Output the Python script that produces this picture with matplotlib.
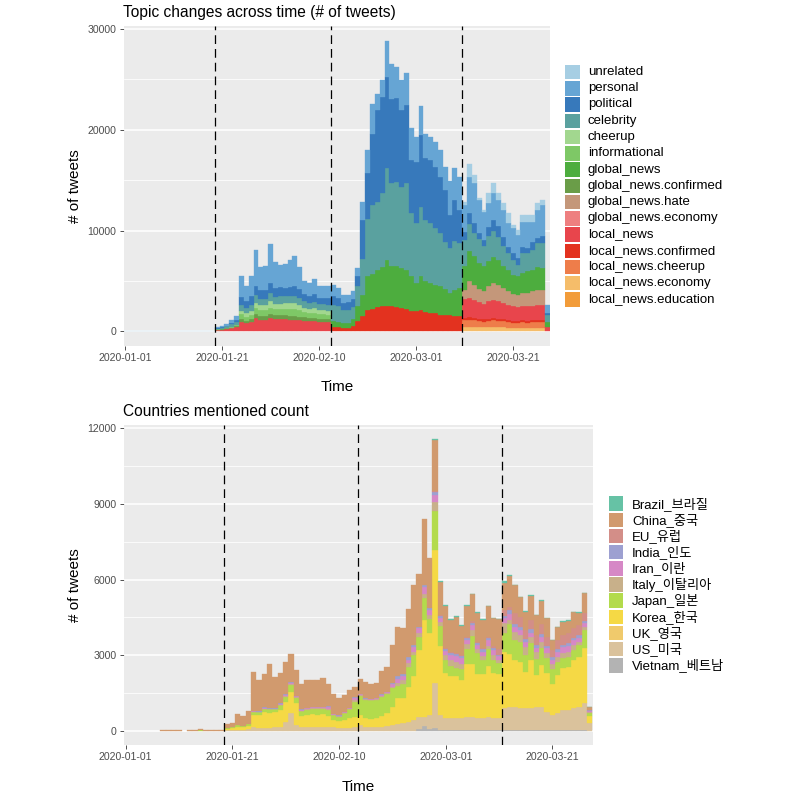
import matplotlib
matplotlib.use("Agg")
import matplotlib.pyplot as plt
from matplotlib.patches import Rectangle
import numpy as np

plt.rcParams['font.family'] = ['Liberation Sans', 'Noto Sans CJK KR', 'DejaVu Sans']

# ---------------- data: top panel (days since 2020-01-01, 0..87) ----------------
days = list(range(88))
tick_days = [0, 20, 40, 60, 80]
tick_labels = ["2020-01-01", "2020-01-21", "2020-02-10", "2020-03-01", "2020-03-21"]
top_vlines = [18.5, 42.5, 69.4]
bot_vlines = [18.5, 43.5, 70.5]

topic_names = ["unrelated", "personal", "political", "celebrity", "cheerup", "informational",
               "global_news", "global_news.confirmed", "global_news.hate", "global_news.economy",
               "local_news", "local_news.confirmed", "local_news.cheerup", "local_news.economy",
               "local_news.education"]
topic_colors = ["#A6CEE3", "#66A5D4", "#3779BB", "#5AA19F", "#A2D78F", "#7EC866",
                "#4DAD3E", "#6A9D48", "#C4977A", "#EE7F80",
                "#E8454C", "#E3321F", "#EE7D4A", "#F5BD6A", "#F29C3A"]

unrelated = [80]*19 + [0]*24 + [0]*27 + [260, 1250, 820, 160, 160, 990, 990, 660, 720, 920, 330, 490, 660, 660, 660, 660, 490] + [0]
personal = [0]*19 + [100, 120, 160, 260, 350, 2080, 1500, 1980, 3550, 2270, 2420, 3930, 2550, 2200, 2300, 2630, 2990, 2250, 1200, 1240, 1480, 1190, 1130, 1230] \
    + [1090, 990, 820, 760, 760, 820, 1810, 2300, 2960, 1650, 1650, 3620, 3450, 3030, 2960, 3190, 3220, 2400, 2860, 2400, 2300, 2470, 2630, 2300, 3390, 3130, 3290] \
    + [2630, 3620, 3950, 3290, 2860, 2300, 2630, 2570, 2700, 2430, 2470, 2300, 2530, 2630, 1970, 2800, 3130] + [800]
political = [0]*19 + [50, 60, 90, 150, 230, 800, 700, 800, 900, 850, 850, 950, 900, 900, 850, 850, 950, 850, 750, 700, 750, 650, 650, 650] \
    + [820, 820, 720, 720, 790, 990, 3880, 4540, 7070, 9050, 9540, 9050, 8390, 8320, 7570, 7730, 5260, 6090, 7070, 6090, 6250, 6090, 5590, 5100, 3290, 4110, 3290] \
    + [820, 1050, 990, 590, 590, 920, 1150, 1120, 920, 590, 660, 660, 590, 490, 820, 490, 660] + [250]
celebrity = [0]*19 + [80, 100, 140, 200, 250, 600, 500, 600, 750, 650, 650, 850, 700, 750, 700, 750, 750, 700, 650, 600, 650, 550, 550, 550] \
    + [1650, 1580, 1320, 1380, 1250, 1970, 3520, 5660, 6810, 6810, 7300, 9110, 8230, 8390, 8060, 8550, 6190, 5920, 6840, 6090, 5920, 5590, 5260, 4700, 4440, 4770, 4440] \
    + [2630, 2730, 2300, 2370, 1970, 2530, 2530, 2240, 1910, 1710, 1480, 1150, 1970, 1810, 1970, 2370, 2470] + [650]
cheerup = [0]*19 + [0, 0, 20, 40, 60, 350, 320, 400, 550, 500, 500, 600, 550, 550, 580, 600, 600, 550, 450, 420, 450, 400, 400, 400] + [0]*45
informational = [0]*19 + [20, 20, 40, 60, 80, 450, 400, 450, 600, 550, 550, 650, 600, 600, 620, 650, 650, 600, 500, 480, 500, 450, 450, 450] + [0]*45
global_news = [0]*43 + [560, 460, 430, 430, 660, 1480, 2070, 3360, 3490, 3620, 3880, 4540, 3950, 4010, 3950, 3880, 3520, 2800, 3420, 3060, 2960, 2860, 2800, 2530, 2200, 2570, 2800] \
    + [2300, 2960, 2800, 2570, 2470, 2470, 2570, 2470, 2200, 2070, 1880, 1810, 1970, 2140, 2140, 2240, 2140] + [500]
global_news_confirmed = [0]*19 + [30, 40, 50, 60, 80, 300, 280, 320, 400, 380, 380, 420, 400, 400, 400, 400, 400, 380, 350, 350, 350, 330, 330, 320] + [0]*45
global_news_hate = [0]*70 + [920, 1650, 1480, 1320, 1220, 1480, 1650, 1650, 1480, 1320, 1250, 1220, 1320, 1320, 1410, 1480, 1480] + [0]
global_news_economy = [0]*88
local_news = [0]*19 + [150, 180, 250, 330, 450, 950, 800, 900, 1300, 1150, 1150, 1300, 1200, 1200, 1200, 1150, 1150, 1100, 1050, 1000, 1000, 950, 950, 900] + [0]*27 \
    + [1880, 1910, 1810, 1650, 1580, 1740, 1840, 1710, 1610, 1510, 1410, 1350, 1380, 1410, 1450, 1510, 1510] + [450]
local_news_confirmed = [0]*43 + [460, 460, 360, 360, 530, 1020, 1580, 2110, 2240, 2430, 2500, 2500, 2500, 2430, 2340, 2240, 2010, 2010, 2110, 1910, 1840, 1780, 1680, 1680, 1610, 1580, 1510] \
    + [230]*17 + [0]
local_news_cheerup = [0]*70 + [660, 720, 660, 590, 530, 590, 630, 590, 560, 530, 490, 490, 530, 490, 530, 530, 530] + [0]
local_news_economy = [0]*70 + [460, 460, 460, 430, 430, 430, 460, 460, 430, 390, 360, 360, 360, 360, 360, 390, 390] + [0]
local_news_education = [0]*88

topic_values = [unrelated, personal, political, celebrity, cheerup, informational, global_news,
                global_news_confirmed, global_news_hate, global_news_economy, local_news,
                local_news_confirmed, local_news_cheerup, local_news_economy, local_news_education]

# ---------------- data: bottom panel ----------------
country_names = ["Brazil_브라질", "China_중국", "EU_유럽", "India_인도", "Iran_이란", "Italy_이탈리아",
                 "Japan_일본", "Korea_한국", "UK_영국", "US_미국", "Vietnam_베트남"]
country_colors = ["#66C2A5", "#D19A6E", "#D38E88", "#9DA0D1", "#D688C6", "#C8B08A",
                  "#B3DB4C", "#F5D945", "#F0CA6C", "#DAC29C", "#B3B3B3"]

brazil = [0]*58 + [30]*12 + [30, 50] + [20]*15 + [10]
china = [0]*7 + [40, 40, 40, 40, 0] + [30]*7 + [150, 180, 430, 400, 510] \
    + [1520, 1230, 1310, 1730, 1220, 1190, 1280, 1110, 1030, 1000, 1090, 1050, 1060, 1120, 840, 780, 660, 660, 700, 400] \
    + [590, 630, 590, 590, 920, 960, 1470, 1950, 1850, 1920, 2380, 2070, 2640, 1970, 2000, 1320, 1660, 1240, 1420, 1140, 1220, 1070, 1140, 1110, 1200, 1110] \
    + [1190, 1080, 1250, 1120, 770, 730, 950, 790, 900, 730, 400, 500, 530, 490, 620, 500, 790, 110]
eu = [0]*58 + [50]*12 + [200, 240, 130, 400, 400, 370, 370, 400, 400, 370, 260, 370, 400, 400, 400, 400, 300, 20]
india = [0]*24 + [20, 20, 20, 20, 20, 20, 30, 30, 20, 20, 20, 20, 20, 20, 50, 20, 20, 20, 20, 60] \
    + [25, 15, 15, 15, 30, 20, 70, 110, 80, 110, 90, 70, 90, 70, 130, 80, 70, 80, 80, 80, 80, 80, 80, 80, 80, 80] \
    + [70, 90, 130, 130, 130, 90, 130, 90, 130, 90, 110, 90, 90, 110, 90, 90, 90, 20]
iran = [0]*24 + [30, 30, 30, 30, 30, 30, 40, 40, 40, 30, 30, 30, 30, 30, 80, 20, 20, 30, 20, 60] \
    + [40, 20, 20, 25, 40, 40, 90, 130, 160, 110, 170, 200, 260, 200, 290, 150, 150, 200, 220, 220, 180, 200, 160, 170, 230, 220] \
    + [130, 200, 260, 200, 200, 200, 160, 170, 200, 200, 160, 200, 210, 220, 170, 170, 130, 40]
italy = [0]*24 + [0, 0, 0, 0, 0, 20, 40, 40, 30, 20, 30, 20, 20, 30, 30, 20, 20, 20, 20, 80] \
    + [40, 30, 20, 25, 40, 30, 70, 130, 130, 160, 130, 130, 170, 150, 330, 150, 200, 250, 250, 230, 200, 250, 150, 150, 150, 170] \
    + [130, 370, 130, 330, 260, 330, 260, 260, 260, 200, 200, 200, 220, 200, 200, 130, 130, 40]
japan = [0]*14 + [30] + [0]*4 + [20, 40, 60, 50, 80] \
    + [100, 110, 130, 160, 90, 200, 200, 260, 200, 200, 220, 220, 260, 220, 260, 200, 160, 260, 360, 590] \
    + [730, 730, 740, 730, 770, 770, 750, 490, 590, 790, 860, 530, 860, 550, 1560, 800, 520, 400, 330, 400, 590, 1120, 860, 590, 660, 520] \
    + [460, 750, 1190, 790, 790, 660, 660, 660, 660, 590, 590, 530, 400, 400, 400, 460, 730, 120]
korea = [0]*19 + [60, 80, 130, 100, 150] \
    + [500, 500, 630, 570, 620, 660, 790, 860, 860, 420, 460, 500, 490, 530, 420, 290, 280, 320, 380, 420] \
    + [400, 330, 320, 360, 420, 500, 700, 1020, 990, 1390, 1720, 2640, 3830, 3250, 5280, 2740, 1790, 1650, 1650, 1540, 2100, 2100, 1720, 1720, 2000, 1790] \
    + [1720, 2250, 2110, 1850, 1850, 1450, 1920, 1250, 1650, 1520, 1250, 1520, 1650, 1720, 1920, 1980, 2180, 300]
uk = [0]*88
us = [0]*19 + [30, 30, 40, 40, 60] \
    + [150, 130, 130, 130, 150, 170, 370, 700, 240, 170, 170, 170, 140, 140, 170, 140, 130, 120, 120, 150] \
    + [240, 170, 150, 150, 170, 200, 240, 280, 300, 370, 440, 510, 370, 570, 1790, 600, 500, 500, 500, 480, 520, 520, 500, 500, 550, 500] \
    + [500, 880, 940, 940, 880, 880, 880, 940, 940, 750, 610, 680, 810, 810, 880, 940, 1080, 300]
vietnam = [0]*55 + [60, 200, 80, 100] + [20]*28 + [0]

country_values = [brazil, china, eu, india, iran, italy, japan, korea, uk, us, vietnam]

# ---------------- figure ----------------
W = H = 800
fig = plt.figure(figsize=(8, 8), dpi=100)
fig.patch.set_facecolor("white")

def px_axes(l, t, r, b):
    return fig.add_axes([l / W, 1 - b / H, (r - l) / W, (b - t) / H])

ax1 = px_axes(123.5, 26, 550, 346)
ax2 = px_axes(123.5, 425, 593, 745)

def style(ax, yticks, yminor, xlim, ylim):
    ax.set_facecolor("#EBEBEB")
    for s in ax.spines.values():
        s.set_visible(False)
    ax.set_xlim(*xlim)
    ax.set_ylim(*ylim)
    ax.set_yticks(yticks)
    ax.set_yticklabels([str(v) for v in yticks])
    for v in yminor:
        ax.axhline(v, color="white", lw=0.55, zorder=0.5)
    for v in yticks:
        ax.axhline(v, color="white", lw=1.1, zorder=0.6)
    ax.set_xticks(tick_days)
    ax.set_xticklabels(tick_labels)
    ax.tick_params(axis="both", length=3, width=0.6, color="#333333",
                   labelsize=7.6, labelcolor="#4D4D4D", pad=2)
    ax.set_axisbelow(True)

def stack(ax, names, values, colors):
    cum = np.zeros(len(days))
    for name, vals, col in reversed(list(zip(names, values, colors))):
        v = np.array(vals, dtype=float)
        m = v > 0
        x = np.array(days)[m]
        ax.bar(x, v[m], width=1.0, bottom=cum[m], color=col, edgecolor=col,
               linewidth=0.25, zorder=2)
        cum = cum + v

style(ax1, [0, 10000, 20000, 30000], [5000, 15000, 25000], (-0.3, 87.6), (-1440, 30260))
stack(ax1, topic_names, topic_values, topic_colors)
for xv in top_vlines:
    ax1.axvline(xv, color="black", lw=0.9, ls=(0, (7, 4)), zorder=3)

style(ax2, [0, 3000, 6000, 9000, 12000], [1500, 4500, 7500, 10500], (-0.41, 87.6), (-555, 12127))
stack(ax2, country_names, country_values, country_colors)
for xv in bot_vlines:
    ax2.axvline(xv, color="black", lw=0.9, ls=(0, (7, 4)), zorder=3)

# titles and axis labels
fig.text(123 / W, 1 - 12 / H, "Topic changes across time (# of tweets)", fontsize=11.2, va="center", ha="left")
fig.text(123 / W, 1 - 411 / H, "Countries mentioned count", fontsize=11.2, va="center", ha="left")
fig.text(337 / W, 1 - 387 / H, "Time", fontsize=11, va="center", ha="center")
fig.text(358 / W, 1 - 787 / H, "Time", fontsize=11, va="center", ha="center")
fig.text(75 / W, 1 - 186 / H, "# of tweets", fontsize=11, va="center", ha="center", rotation=90)
fig.text(75 / W, 1 - 585 / H, "# of tweets", fontsize=11, va="center", ha="center", rotation=90)

# legends
def legend(names, colors, kx, ky0, step, tx, size=14.5, fs=9.5):
    for i, (n, c) in enumerate(zip(names, colors)):
        cy = ky0 + step * i
        fig.add_artist(Rectangle(((kx) / W, 1 - (cy + size / 2) / H), size / W, size / H,
                                 transform=fig.transFigure, facecolor=c, edgecolor="none"))
        fig.text(tx / W, 1 - cy / H, n, fontsize=fs, va="center", ha="left",
                 family=["Liberation Sans", "Noto Sans CJK KR", "DejaVu Sans"])

legend(topic_names, topic_colors, 565, 72, 16.25, 588)
legend(country_names, country_colors, 608.5, 503.7, 16.16, 632)

fig.savefig("out.png", dpi=100, facecolor="white")
